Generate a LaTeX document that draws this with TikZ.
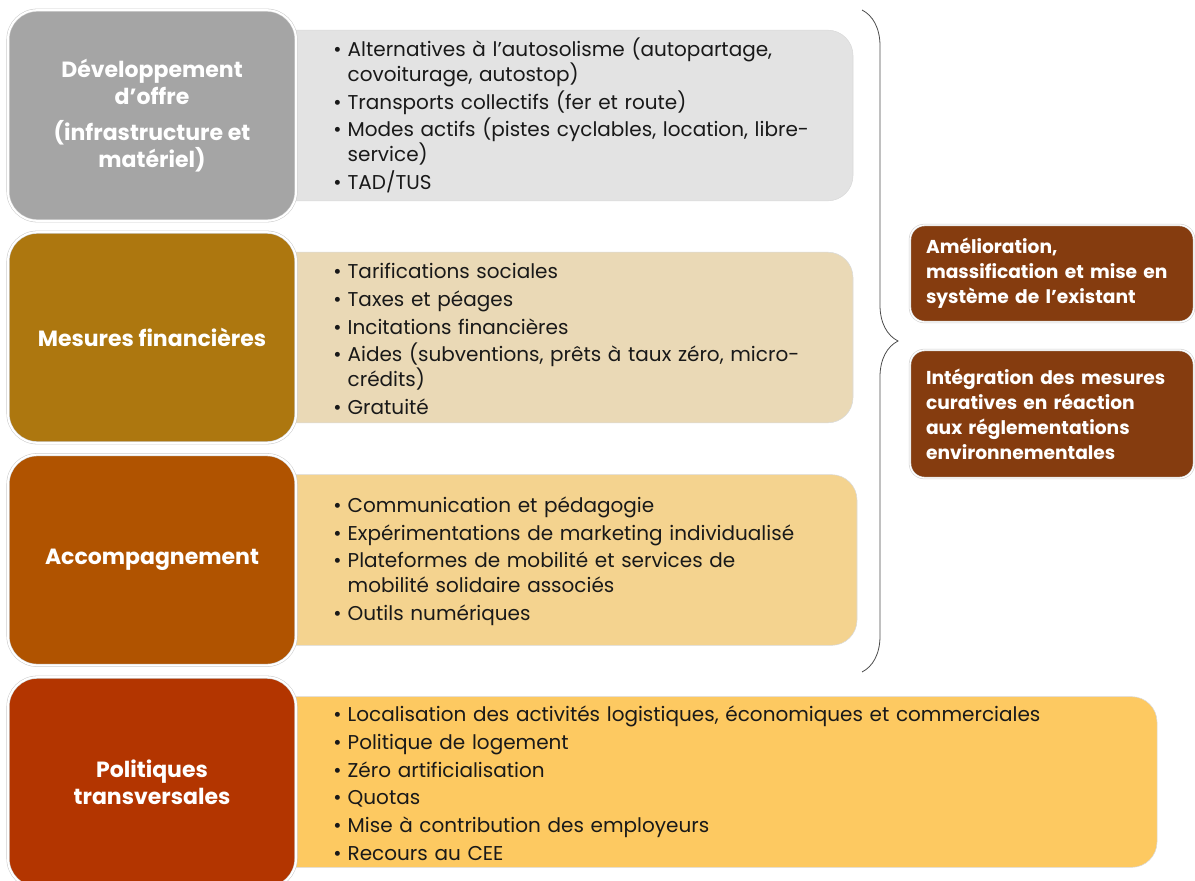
\documentclass[tikz,border=0pt]{standalone}
\usepackage{fontspec}
\setmainfont{Poppins}
\usetikzlibrary{positioning}
\usetikzlibrary{decorations.pathreplacing}
\definecolor{g1}{HTML}{A5A5A5}
\definecolor{g2}{HTML}{E3E3E3}
\definecolor{o1}{HTML}{AD770F}
\definecolor{o2}{HTML}{EAD9B6}
\definecolor{r1}{HTML}{B05300}
\definecolor{r2}{HTML}{F4D38F}
\definecolor{t1}{HTML}{B33500}
\definecolor{t2}{HTML}{FDC961}
\definecolor{br}{HTML}{853C0F}

\newcommand{\bitem}[1]{\par\hangindent=0.72em\hangafter=1\noindent\makebox[0.72em][l]{\textbullet}#1}

\begin{document}
\begin{tikzpicture}[x=0.75pt,y=-0.75pt]
    \tikzstyle{leftbox}=[rectangle, rounded corners=22pt, draw=black!20, double=white,
    double distance=1.5pt, minimum width=216pt, minimum height=158pt, inner sep=0pt,
    text=white, align=center, font=\bfseries\fontsize{16.5}{20.25}\selectfont]
    \tikzstyle{listbox}=[rectangle, rounded corners=19pt, draw=black!15, line width=0.4pt,
    minimum height=128pt, inner sep=0pt]
    \tikzstyle{listtext}=[anchor=west, inner sep=0pt, yshift=3.5pt, align=left, text=black!90,
    font=\fontsize{15}{18.75}\selectfont\setlength{\parskip}{2pt}]
    \tikzstyle{resbox}=[rectangle, rounded corners=11pt, fill=br, draw=black!20, double=white,
    double distance=1pt, minimum width=213pt, inner xsep=12pt, text width=189pt, align=left,
    text=white, font=\bfseries\fontsize{14}{18.75}\selectfont]

    % Page frame
    \useasboundingbox (0,0) rectangle (1195,881);

    % List boxes (behind)
    \node [listbox, fill=g2, minimum width=444.75pt] (offlist) at (556.5,115.5) {};
    \node [listbox, fill=o2, minimum width=444.75pt] (finlist) at (556.5,337.5) {};
    \node [listbox, fill=r2, minimum width=447.75pt] (acclist) at (558.5,560) {};
    \node [listbox, fill=t2, minimum width=672.75pt] (pollist) at (708.5,782) {};

    % Left boxes
    \node [leftbox, fill=g1] (offre) at (152,115.5)
    {Développement\\ d’offre\\[7pt] (infrastructure et\\ matériel)};
    \node [leftbox, fill=o1] (fin) at (152,337.5) {Mesures financières};
    \node [leftbox, fill=r1] (acc) at (152,560) {Accompagnement};
    \node [leftbox, fill=t1] (pol) at (152,782.5) {Politiques\\ transversales};

    % List texts
    \node [listtext, text width=410pt] (offtext) at (333,115.5) {%
    \bitem{Alternatives à l’autosolisme (autopartage,\newline covoiturage, autostop)}
    \bitem{Transports collectifs (fer et route)}
    \bitem{Modes actifs (pistes cyclables, location, libre-\newline service)}
    \bitem{TAD/TUS}};
    \node [listtext, text width=410pt] (fintext) at (333,337.5) {%
    \bitem{Tarifications sociales}
    \bitem{Taxes et péages}
    \bitem{Incitations financières}
    \bitem{Aides (subventions, prêts à taux zéro, micro-\newline crédits)}
    \bitem{Gratuité}};
    \node [listtext, text width=410pt] (acctext) at (333,560) {%
    \bitem{Communication et pédagogie}
    \bitem{Expérimentations de marketing individualisé}
    \bitem{Plateformes de mobilité et services de\newline mobilité solidaire associés}
    \bitem{Outils numériques}};
    \node [listtext, text width=630pt] (poltext) at (333,782) {%
    \bitem{Localisation des activités logistiques, économiques et commerciales}
    \bitem{Politique de logement}
    \bitem{Zéro artificialisation}
    \bitem{Quotas}
    \bitem{Mise à contribution des employeurs}
    \bitem{Recours au CEE}};

    % Brace
    \coordinate (btop) at (862,10);
    \coordinate (bbot) at (862,672);
    \draw [decorate, decoration={brace, amplitude=27pt}, line width=0.6pt, color=black!70]
    (btop) -- (bbot);

    % Result boxes
    \node [resbox, minimum height=72.75pt] (amel) at (1052,273.5)
    {Amélioration,\\ massification et mise en\\ système de l’existant};
    \node [resbox, minimum height=96pt] (integ) at (1052,414)
    {Intégration des mesures\\ curatives en réaction\\ aux réglementations\\ environnementales};
\end{tikzpicture}
\end{document}
